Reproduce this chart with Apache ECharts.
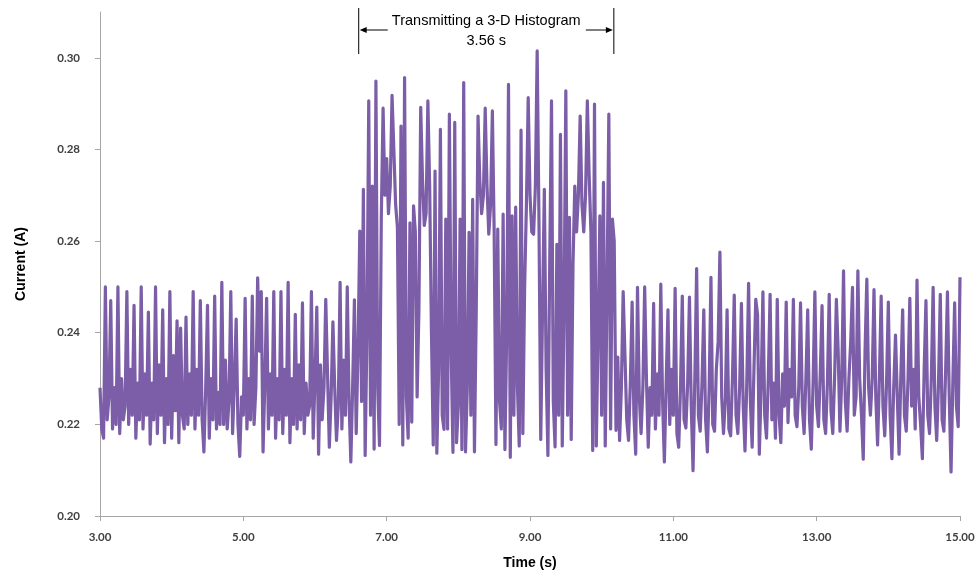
<!DOCTYPE html>
<html>
<head>
<meta charset="utf-8">
<title>Current while transmitting a 3-D histogram</title>
<script src="https://cdn.jsdelivr.net/npm/echarts@6/dist/echarts.min.js"></script>
<style>
  html, body { margin: 0; padding: 0; background: #fff; }
  #chart { width: 979px; height: 575px; }
</style>
</head>
<body>
<div id="chart"></div>
<script>
// sampling of the trace (s)
const tStart = 3.0
const tStep = 0.025

// current readings (A), one per sample
const currents = [
  0.228, 0.219, 0.217, 0.250, 0.221, 0.226, 0.247, 0.219, 0.228, 0.220,
  0.250, 0.218, 0.230, 0.221, 0.224, 0.249, 0.220, 0.232, 0.222, 0.246,
  0.217, 0.229, 0.221, 0.250, 0.219, 0.231, 0.222, 0.2445, 0.2157, 0.229,
  0.221, 0.250, 0.218, 0.233, 0.222, 0.245, 0.216, 0.230, 0.220, 0.249,
  0.217, 0.235, 0.223, 0.2426, 0.216, 0.241, 0.222, 0.219, 0.2434, 0.220,
  0.231, 0.222, 0.249, 0.219, 0.232, 0.222, 0.247, 0.221, 0.214, 0.228,
  0.246, 0.217, 0.230, 0.221, 0.248, 0.219, 0.227, 0.220, 0.251, 0.220,
  0.234, 0.219, 0.225, 0.249, 0.218, 0.229, 0.243, 0.220, 0.213, 0.226,
  0.222, 0.2475, 0.219, 0.230, 0.221, 0.248, 0.220, 0.228, 0.252, 0.236,
  0.249, 0.214, 0.229, 0.2475, 0.219, 0.231, 0.222, 0.249, 0.217, 0.230,
  0.221, 0.249, 0.218, 0.232, 0.222, 0.251, 0.216, 0.230, 0.220, 0.244,
  0.219, 0.233, 0.221, 0.2465, 0.218, 0.229, 0.222, 0.224, 0.249, 0.217,
  0.230, 0.2456, 0.2135, 0.233, 0.221, 0.228, 0.2473, 0.231, 0.215, 0.226,
  0.2424, 0.228, 0.2165, 0.224, 0.251, 0.219, 0.234, 0.222, 0.250, 0.225,
  0.2118, 0.228, 0.2472, 0.218, 0.236, 0.2622, 0.225, 0.2713, 0.2132, 0.240,
  0.2906, 0.222, 0.272, 0.2146, 0.2949, 0.228, 0.2154, 0.265, 0.289, 0.270,
  0.278, 0.266, 0.272, 0.2918, 0.280, 0.268, 0.263, 0.220, 0.2851, 0.2155,
  0.2957, 0.226, 0.217, 0.264, 0.2205, 0.2677, 0.262, 0.226, 0.245, 0.2892,
  0.2735, 0.2634, 0.266, 0.2906, 0.272, 0.240, 0.2155, 0.2753, 0.2137, 0.232,
  0.2844, 0.222, 0.2189, 0.2648, 0.219, 0.2877, 0.236, 0.2139, 0.2859, 0.216,
  0.224, 0.2648, 0.2145, 0.2946, 0.214, 0.228, 0.2619, 0.222, 0.2691, 0.214,
  0.245, 0.2873, 0.273, 0.266, 0.270, 0.289, 0.272, 0.2615, 0.268, 0.2884,
  0.262, 0.2156, 0.2626, 0.225, 0.219, 0.2659, 0.2145, 0.240, 0.2942, 0.2128,
  0.2655, 0.222, 0.2674, 0.228, 0.2153, 0.2842, 0.218, 0.250, 0.268, 0.2913,
  0.270, 0.262, 0.2615, 0.272, 0.3015, 0.265, 0.2167, 0.245, 0.2713, 0.232,
  0.2132, 0.255, 0.2906, 0.225, 0.2151, 0.2593, 0.222, 0.2833, 0.2153, 0.245,
  0.2928, 0.222, 0.2652, 0.2167, 0.255, 0.272, 0.262, 0.270, 0.2873, 0.268,
  0.262, 0.270, 0.2906, 0.2746, 0.262, 0.2143, 0.2899, 0.2153, 0.240, 0.2655,
  0.222, 0.2728, 0.2153, 0.250, 0.2877, 0.219, 0.2648, 0.260, 0.2187, 0.2347,
  0.2165, 0.228, 0.249, 0.235, 0.221, 0.2165, 0.229, 0.2467, 0.222, 0.2135,
  0.2499, 0.226, 0.218, 0.228, 0.250, 0.230, 0.215, 0.228, 0.222, 0.2464,
  0.219, 0.231, 0.222, 0.2506, 0.225, 0.2118, 0.229, 0.245, 0.220, 0.232,
  0.222, 0.2497, 0.218, 0.215, 0.228, 0.248, 0.221, 0.2192, 0.229, 0.2478,
  0.224, 0.2099, 0.230, 0.254, 0.222, 0.2185, 0.229, 0.245, 0.221, 0.214,
  0.228, 0.2521, 0.220, 0.2185, 0.232, 0.238, 0.2576, 0.226, 0.218, 0.225,
  0.245, 0.219, 0.2175, 0.230, 0.2482, 0.222, 0.218, 0.228, 0.2464, 0.224,
  0.2142, 0.229, 0.2508, 0.225, 0.215, 0.232, 0.2473, 0.244, 0.2135, 0.228,
  0.2489, 0.222, 0.217, 0.230, 0.2484, 0.221, 0.229, 0.217, 0.2473, 0.222,
  0.216, 0.231, 0.224, 0.2467, 0.2204, 0.232, 0.226, 0.2473, 0.222, 0.2195,
  0.228, 0.2465, 0.224, 0.218, 0.230, 0.245, 0.221, 0.2146, 0.229, 0.2489,
  0.224, 0.2195, 0.231, 0.2459, 0.221, 0.218, 0.229, 0.2484, 0.223, 0.218,
  0.230, 0.2473, 0.236, 0.2185, 0.230, 0.2535, 0.225, 0.2185, 0.230, 0.238,
  0.2499, 0.222, 0.226, 0.2535, 0.230, 0.222, 0.2124, 0.236, 0.2517, 0.228,
  0.222, 0.230, 0.2494, 0.226, 0.2155, 0.230, 0.248, 0.224, 0.2175, 0.229,
  0.2467, 0.222, 0.2125, 0.228, 0.2395, 0.226, 0.2135, 0.231, 0.245, 0.222,
  0.2185, 0.230, 0.2475, 0.224, 0.232, 0.219, 0.2515, 0.226, 0.220, 0.2125,
  0.232, 0.247, 0.222, 0.218, 0.230, 0.2499, 0.224, 0.2165, 0.229, 0.2484,
  0.221, 0.2185, 0.232, 0.2489, 0.226, 0.2096, 0.229, 0.2465, 0.224, 0.2195,
  0.2521
]

// tick labels
const yTicks = [0.20, 0.22, 0.24, 0.26, 0.28, 0.30]
const xTicks = [3, 5, 7, 9, 11, 13, 15]

// transmission window (s) and its label
const txWindow = [6.61, 10.17]
const txLabel = ['Transmitting a 3-D Histogram', '3.56 s']

let chart = echarts.init(document.getElementById('chart'))
let seriesData = currents.map((v, i) => [tStart + i * tStep, v])

let labelStyle = {
  color: '#404040',
  fontFamily: 'Lato',
  fontWeight: 'bold',
  fontSize: 11.5
}

chart.setOption({
  animation: false,
  grid: { left: 100, right: 19, top: 12, bottom: 58 },
  xAxis: {
    type: 'value',
    min: 3,
    max: 15,
    interval: 2,
    name: 'Time (s)',
    nameLocation: 'middle',
    nameGap: 40,
    nameTextStyle: { color: '#000', fontFamily: 'Liberation Sans', fontWeight: 'bold', fontSize: 14 },
    axisLine: { lineStyle: { color: '#a6a6a6', width: 1 } },
    axisTick: { show: true, length: 5, lineStyle: { color: '#a6a6a6' }, customValues: xTicks },
    axisLabel: Object.assign({ margin: 15, customValues: xTicks, formatter: v => v.toFixed(2) }, labelStyle),
    splitLine: { show: false }
  },
  yAxis: {
    type: 'value',
    min: 0.20,
    max: 0.31,
    interval: 0.02,
    name: 'Current (A)',
    nameLocation: 'middle',
    nameGap: 72,
    nameRotate: 90,
    nameTextStyle: { color: '#000', fontFamily: 'Liberation Sans', fontWeight: 'bold', fontSize: 14 },
    axisLine: { show: true, lineStyle: { color: '#a6a6a6', width: 1 } },
    axisTick: { show: true, length: 5, lineStyle: { color: '#a6a6a6' }, customValues: yTicks },
    axisLabel: Object.assign({ margin: 20, customValues: yTicks, formatter: v => v.toFixed(2) }, labelStyle),
    splitLine: { show: false }
  },
  series: [{
    type: 'line',
    data: seriesData,
    showSymbol: false,
    sampling: false,
    lineStyle: { color: '#7b5ea7', width: 3.2, join: 'round' },
    itemStyle: { color: '#7b5ea7' }
  }]
})

// annotation above the plot: bracket with arrows around the transmission window
let x0 = chart.convertToPixel({ xAxisIndex: 0 }, txWindow[0])
let x1 = chart.convertToPixel({ xAxisIndex: 0 }, txWindow[1])
let xm = (x0 + x1) / 2
let arrowY = 30
let ink = { stroke: '#000', lineWidth: 1 }

chart.setOption({
  graphic: [
    { type: 'line', shape: { x1: x0, y1: 8, x2: x0, y2: 54 }, style: ink, silent: true },
    { type: 'line', shape: { x1: x1, y1: 8, x2: x1, y2: 54 }, style: ink, silent: true },
    { type: 'line', shape: { x1: x0 + 6, y1: arrowY, x2: x0 + 29, y2: arrowY }, style: ink, silent: true },
    { type: 'line', shape: { x1: x1 - 28, y1: arrowY, x2: x1 - 6, y2: arrowY }, style: ink, silent: true },
    { type: 'polygon', shape: { points: [[x0 + 1, arrowY], [x0 + 8, arrowY - 3], [x0 + 8, arrowY + 3]] }, style: { fill: '#000' }, silent: true },
    { type: 'polygon', shape: { points: [[x1 - 1, arrowY], [x1 - 8, arrowY - 3], [x1 - 8, arrowY + 3]] }, style: { fill: '#000' }, silent: true },
    {
      type: 'text', x: xm, y: 21, silent: true,
      style: { text: txLabel[0], fill: '#000', font: '14.5px "Liberation Sans", Arial', align: 'center', verticalAlign: 'middle' }
    },
    {
      type: 'text', x: xm, y: 41, silent: true,
      style: { text: txLabel[1], fill: '#000', font: '14.5px "Liberation Sans", Arial', align: 'center', verticalAlign: 'middle' }
    }
  ]
})
</script>
</body>
</html>
